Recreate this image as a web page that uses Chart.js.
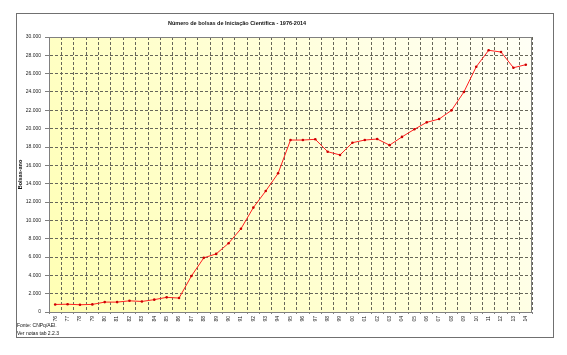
<!DOCTYPE html>
<html><head><meta charset="utf-8">
<script src="https://cdn.jsdelivr.net/npm/chart.js@4/dist/chart.umd.min.js"></script>
<style>html,body{margin:0;padding:0;background:#fff;}#wrap{position:relative;width:567px;height:355px;}</style>
</head><body><div id="wrap"><canvas id="c" width="567" height="355"></canvas></div>
<script>
const titleText = 'Número de bolsas de Iniciação Científica - 1976-2014';
const yAxisTitle = 'Bolsas-ano';
const notes = ['Fonte: CNPq/AEI.', 'Ver notas tab 2.2.3'];
const years = ['76','77','78','79','80','81','82','83','84','85','86','87','88','89','90','91','92','93','94','95','96','97','98','99','00','01','02','03','04','05','06','07','08','09','10','11','12','13','14'];
const bolsas = [820,850,790,830,1080,1080,1220,1150,1350,1600,1520,3930,5910,6340,7500,9080,11390,13200,15130,18760,18760,18840,17490,17130,18470,18760,18870,18200,19100,19930,20690,21050,22000,24000,26760,28550,28360,26650,26980];
const yTickLabels = ['0','2.000','4.000','6.000','8.000','10.000','12.000','14.000','16.000','18.000','20.000','22.000','24.000','26.000','28.000','30.000'];

const FONT = '"Liberation Sans", Arial, sans-serif';

const decor = {
  id: 'decor',
  beforeDraw(chart) {
    const {ctx, chartArea: a} = chart;
    ctx.save();
    ctx.fillStyle = '#fff';
    ctx.fillRect(0, 0, chart.width, chart.height);
    const g = ctx.createLinearGradient(a.left, a.bottom, a.right, a.top);
    g.addColorStop(0, '#ffffb4');
    g.addColorStop(0.5, '#ffffd4');
    g.addColorStop(1, '#fffff6');
    ctx.fillStyle = g;
    ctx.fillRect(a.left, a.top, a.right - a.left, a.bottom - a.top);
    ctx.restore();
  },
  afterDraw(chart) {
    const {ctx, chartArea: a} = chart;
    ctx.save();
    ctx.strokeStyle = '#808080';
    ctx.lineWidth = 1;
    ctx.strokeRect(Math.round(a.left) + 0.5, Math.round(a.top) + 0.5, Math.round(a.right - a.left) - 1, Math.round(a.bottom - a.top));
    ctx.strokeStyle = '#707070';
    ctx.strokeRect(16.5, 13.5, 537, 324);
    ctx.fillStyle = '#111';
    ctx.font = 'bold 5.5px ' + FONT;
    ctx.textAlign = 'center';
    ctx.textBaseline = 'middle';
    ctx.fillText(titleText, 237, 23);
    ctx.font = '5px ' + FONT;
    ctx.textAlign = 'left';
    ctx.fillText(notes[0], 17, 326);
    ctx.fillText(notes[1], 17, 334);
    ctx.restore();
  }
};

new Chart(document.getElementById('c'), {
  type: 'line',
  data: {
    labels: years,
    datasets: [{
      data: bolsas,
      borderColor: '#ff2020',
      borderWidth: 1,
      backgroundColor: '#cc0000',
      pointBackgroundColor: '#cc0000',
      pointBorderColor: '#cc0000',
      pointRadius: 1.3,
      pointBorderWidth: 0,
      tension: 0,
      fill: false
    }]
  },
  options: {
    responsive: false,
    devicePixelRatio: 1,
    animation: false,
    layout: {padding: {left: 0, top: 37, right: 35, bottom: 0}},
    plugins: {legend: {display: false}, tooltip: {enabled: false}, title: {display: false}},
    scales: {
      x: {
        type: 'category',
        offset: true,
        grid: {offset: true, color: '#66665a', lineWidth: 1, drawTicks: true, tickLength: 2, tickColor: '#808080'},
        border: {display: true, color: '#808080', dash: [3, 2]},
        ticks: {
          font: {family: FONT, size: 5},
          color: '#222',
          minRotation: 90, maxRotation: 90,
          autoSkip: false,
          padding: 2
        },
        afterFit(s) { s.height = 43; s.paddingLeft = 0; s.paddingRight = 0; }
      },
      y: {
        min: 0, max: 30000,
        grid: {color: '#66665a', lineWidth: 1, drawTicks: true, tickLength: 4, tickColor: '#808080'},
        border: {display: true, color: '#808080', dash: [3, 2]},
        ticks: {
          stepSize: 2000,
          font: {family: FONT, size: 5},
          color: '#222',
          padding: 4,
          callback: (v) => yTickLabels[Math.round(v / 2000)]
        },
        title: {
          display: true,
          text: yAxisTitle,
          color: '#111',
          font: {family: FONT, size: 5.5, weight: 'bold'},
          padding: {top: 17, bottom: 0}
        },
        afterFit(s) { s.width = 49; s.paddingTop = 0; s.paddingBottom = 0; }
      }
    }
  },
  plugins: [decor]
});
</script>
</body></html>
